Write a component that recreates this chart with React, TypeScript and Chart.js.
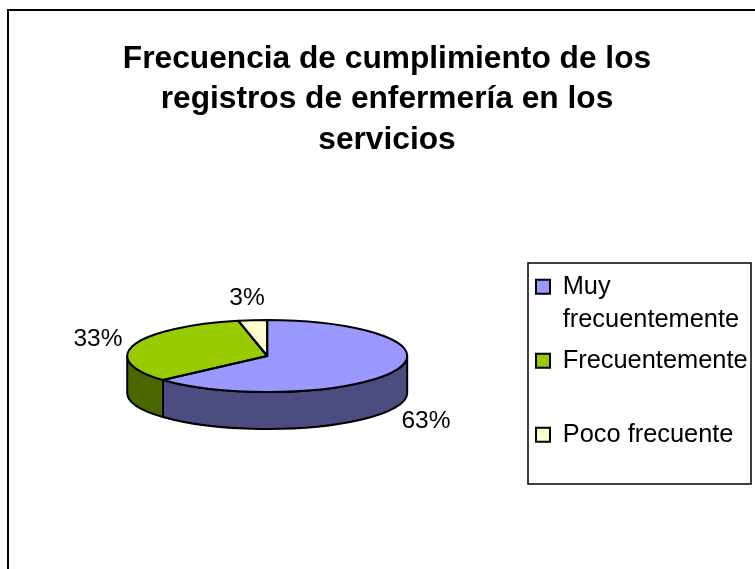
import React, { useEffect, useRef } from "react";
import { Chart, registerables } from "chart.js";

Chart.register(...registerables);

const categories = [
  ["Muy", "frecuentemente"],
  ["Frecuentemente", ""],
  ["Poco frecuente", ""],
];
const shareValues = [63.3, 33.3, 3.3];
const percentLabels = ["63%", "33%", "3%"];
const faceColors = ["#9999FF", "#99CC00", "#FFFFCC"];
const wallColors = ["#4C4C80", "#4C6600", "#80805F"];
const titleLines = [
  "Frecuencia de cumplimiento de los",
  "registros de enfermería en los",
  "servicios",
];

const FONT = "'Liberation Sans', Arial, sans-serif";
const RADIUS = 140;
const SQUASH = 36 / 140;
const DEPTH = 37;
const LABEL_RX = 176;
const LABEL_RY = 60;
const LABEL_DROP = 39;
const LABEL_DX = -2;
const LABEL_DY = 2;
const LEGEND_FRAME = { left: 528, top: 263, right: 751, bottom: 484 };
const LEGEND_ITEMS_TOP = 266;
const TITLE_CENTER = 387;

function ellipsePath(
  ctx: CanvasRenderingContext2D,
  cx: number,
  cy: number,
  r: number,
  a: number,
  b: number,
  ccw = false
) {
  ctx.save();
  ctx.translate(cx, cy);
  ctx.scale(1, SQUASH);
  ctx.arc(0, 0, r, a, b, ccw);
  ctx.restore();
}

const pie3d = {
  id: "pie3d",
  beforeDraw(chart: any) {
    const { ctx, width, height } = chart;
    ctx.save();
    ctx.fillStyle = "#FFFFFF";
    ctx.fillRect(0, 0, width, height);
    ctx.strokeStyle = "#000000";
    ctx.lineWidth = 2;
    ctx.beginPath();
    ctx.moveTo(8, height);
    ctx.lineTo(8, 10);
    ctx.lineTo(width, 10);
    ctx.stroke();
    ctx.restore();
  },
  afterLayout(chart: any) {
    const legend = chart.legend;
    if (legend) Object.assign(legend, LEGEND_FRAME, { top: LEGEND_ITEMS_TOP });
    const title = chart.titleBlock;
    if (title) {
      const half = (title.right - title.left) / 2;
      title.left = TITLE_CENTER - half;
      title.right = TITLE_CENTER + half;
    }
  },
  beforeDatasetsDraw(chart: any) {
    const { ctx } = chart;
    const arcs = chart.getDatasetMeta(0).data;
    if (!arcs.length) return;
    const { x: cx, y: cy, outerRadius: r } = arcs[0];
    ctx.save();
    ctx.lineWidth = 2;
    ctx.strokeStyle = "#000000";
    ctx.lineJoin = "round";
    arcs.forEach((arc: any, i: number) => {
      const a = Math.max(arc.startAngle, 0);
      const b = Math.min(arc.endAngle, Math.PI);
      if (b <= a) return;
      ctx.beginPath();
      ellipsePath(ctx, cx, cy, r, a, b);
      ellipsePath(ctx, cx, cy + DEPTH, r, b, a, true);
      ctx.closePath();
      ctx.fillStyle = wallColors[i];
      ctx.fill();
      ctx.stroke();
    });
    ctx.restore();
    ctx.save();
    ctx.translate(0, cy * (1 - SQUASH));
    ctx.scale(1, SQUASH);
  },
  afterDatasetsDraw(chart: any) {
    const { ctx } = chart;
    const arcs = chart.getDatasetMeta(0).data;
    if (!arcs.length) return;
    ctx.restore();
    const { x: cx, y: cy, outerRadius: r } = arcs[0];
    ctx.save();
    ctx.lineWidth = 2;
    ctx.strokeStyle = "#000000";
    ctx.lineJoin = "round";
    arcs.forEach((arc: any) => {
      ctx.beginPath();
      ctx.moveTo(cx, cy);
      ellipsePath(ctx, cx, cy, r, arc.startAngle, arc.endAngle);
      ctx.closePath();
      ctx.stroke();
    });
    ctx.fillStyle = "#000000";
    ctx.font = `24.5px ${FONT}`;
    ctx.textAlign = "center";
    ctx.textBaseline = "middle";
    arcs.forEach((arc: any, i: number) => {
      const mid = (arc.startAngle + arc.endAngle) / 2;
      const s = Math.sin(mid);
      const x = cx + Math.cos(mid) * LABEL_RX + LABEL_DX;
      const y = cy + s * LABEL_RY + (s > 0 ? LABEL_DROP : 0) + LABEL_DY;
      ctx.fillText(percentLabels[i], x, y);
    });
    ctx.restore();
  },
};

export default function App() {
  const ref = useRef<HTMLCanvasElement>(null);
  useEffect(() => {
    if (!ref.current) return;
    const chart = new Chart(ref.current, {
      type: "pie",
      data: {
        labels: categories as any,
        datasets: [
          {
            data: shareValues,
            backgroundColor: faceColors,
            borderWidth: 0,
            radius: RADIUS,
            clip: false as any,
          },
        ],
      },
      options: {
        responsive: false,
        animation: false,
        devicePixelRatio: 1,
        layout: { padding: { left: 13, right: 4, top: 0, bottom: 17.5 } },
        plugins: {
          tooltip: { enabled: false },
          title: {
            display: true,
            text: titleLines,
            color: "#000000",
            font: {
              family: FONT,
              size: 31.7,
              weight: "bold",
              lineHeight: 40.5 / 31.7,
            },
            padding: { top: 39, bottom: 0 },
          },
          legend: {
            display: true,
            position: "right",
            align: "start",
            labels: {
              boxWidth: 14,
              boxHeight: 14,
              padding: 8,
              color: "#000000",
              font: { family: FONT, size: 25.4, lineHeight: 33 / 25.4 },
              generateLabels(c: any) {
                const items = (Chart as any).overrides.pie.plugins.legend.labels.generateLabels(c);
                return items.map((it: any) => ({ ...it, lineWidth: 2, strokeStyle: "#000000" }));
              },
            },
          },
        },
      },
      plugins: [
        pie3d,
        {
          id: "legendFrame",
          afterDraw(c: any) {
            const { ctx } = c;
            ctx.save();
            ctx.strokeStyle = "#000000";
            ctx.lineWidth = 1.5;
            ctx.strokeRect(
              LEGEND_FRAME.left,
              LEGEND_FRAME.top,
              LEGEND_FRAME.right - LEGEND_FRAME.left,
              LEGEND_FRAME.bottom - LEGEND_FRAME.top
            );
            ctx.restore();
          },
        },
      ],
    } as any);
    return () => chart.destroy();
  }, []);
  return (
    <div style={{ position: "absolute", left: 0, top: 0, width: 755, height: 569 }}>
      <canvas ref={ref} width={755} height={569} style={{ display: "block" }} />
    </div>
  );
}
